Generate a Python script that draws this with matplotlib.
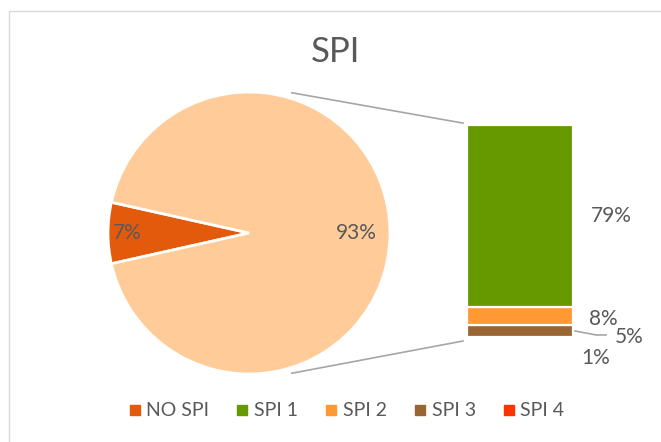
"""Bar-of-pie chart: SPI distribution."""
import matplotlib
matplotlib.use('Agg')
import matplotlib.pyplot as plt
from matplotlib.lines import Line2D
from matplotlib.patches import Rectangle
import numpy as np

plt.rcParams['font.family'] = ['Lato', 'DejaVu Sans']

# data
pie_labels = ['NO SPI', 'SPI']
pie_values = [7, 93]
bar_labels = ['SPI 1', 'SPI 2', 'SPI 3', 'SPI 4']
bar_values = [79, 8, 5, 1]          # top to bottom in the stacked bar
legend_labels = ['NO SPI', 'SPI 1', 'SPI 2', 'SPI 3', 'SPI 4']

TXT = '#595959'
c_nospi = '#E35A0C'
c_rest = '#FFCC99'
bar_colors = ['#669900', '#FF9933', '#996633', '#FF3300']

W, H = 661, 442
fig = plt.figure(figsize=(W / 100, H / 100), dpi=100)
ax = fig.add_axes([0, 0, 1, 1])

# chart border
fig.patches.append(Rectangle((9 / W, -0.01), 1.0, (H - 11) / H + 0.01,
                             transform=fig.transFigure, fill=False,
                             edgecolor='#D9D9D9', linewidth=1.0))

# pie
cx, cy, r = 249, H - 233, 141
start = 180 - pie_values[0] / 100 * 360 / 2
wedges, _ = ax.pie(pie_values, colors=[c_nospi, c_rest], startangle=start,
                   center=(cx, cy), radius=r, frame=True,
                   wedgeprops=dict(edgecolor='white', linewidth=2))
ax.set_xlim(0, W)
ax.set_ylim(0, H)
ax.set_aspect('auto')
ax.axis('off')

ang = start
for val, dist in zip(pie_values, [0.86, 0.76]):
    mid = np.deg2rad(ang + val * 3.6 / 2)
    ax.text(cx + dist * r * np.cos(mid), cy + dist * r * np.sin(mid), f'{val}%',
            ha='center', va='center', fontsize=15, color=TXT)
    ang += val * 3.6

# stacked bar
k = 2.3                     # px per percent
bx, bw = 520, 106
base = H - 339
bottom = base
segs = []
for val, col in zip(bar_values[::-1], bar_colors[::-1]):
    ax.bar(bx, val * k, bottom=bottom, width=bw, color=col,
           edgecolor='white', linewidth=1.6)
    segs.append((bottom, bottom + val * k))
    bottom += val * k
segs = segs[::-1]
top = bottom

# bar labels
(g0, g1), (o0, o1), (b0, b1), (r0, r1) = segs
ax.text(611, (g0 + g1) / 2, f'{bar_values[0]}%', ha='center', va='center', fontsize=15, color=TXT)
ax.text(603, (o0 + o1) / 2 - 3, f'{bar_values[1]}%', ha='center', va='center', fontsize=15, color=TXT)
ax.text(629, (b0 + b1) / 2 - 6, f'{bar_values[2]}%', ha='center', va='center', fontsize=15, color=TXT)
ax.plot([bx + bw / 2 + 2, 596, 606], [(b0 + b1) / 2, (b0 + b1) / 2 - 4, (b0 + b1) / 2 - 4],
        color='#A6A6A6', linewidth=1.2)
ax.text(596, r0 - 19, f'{bar_values[3]}%', ha='center', va='center', fontsize=15, color=TXT)

# connector lines from pie to bar
a = np.deg2rad(73)
rr = r * 1.04
ax.plot([cx + rr * np.cos(a), bx - bw / 2 - 4], [cy + rr * np.sin(a), top + 2],
        color='#A6A6A6', linewidth=1.2)
ax.plot([cx + rr * np.cos(a), bx - bw / 2 - 4], [cy - rr * np.sin(a), base - 2],
        color='#A6A6A6', linewidth=1.2)

# title
ax.text(335, H - 52, 'SPI', ha='center', va='center', fontsize=25, color=TXT)

# legend
handles = [Line2D([], [], marker='s', linestyle='none', markersize=7, color=c)
           for c in [c_nospi] + bar_colors]
leg = fig.legend(handles, legend_labels, loc='center', bbox_to_anchor=(0.523, 1 - 411 / H),
                 ncol=5, frameon=False, fontsize=14, handletextpad=0.2,
                 columnspacing=1.3, labelcolor=TXT, handlelength=0.8)

fig.savefig('out.png', dpi=100)
